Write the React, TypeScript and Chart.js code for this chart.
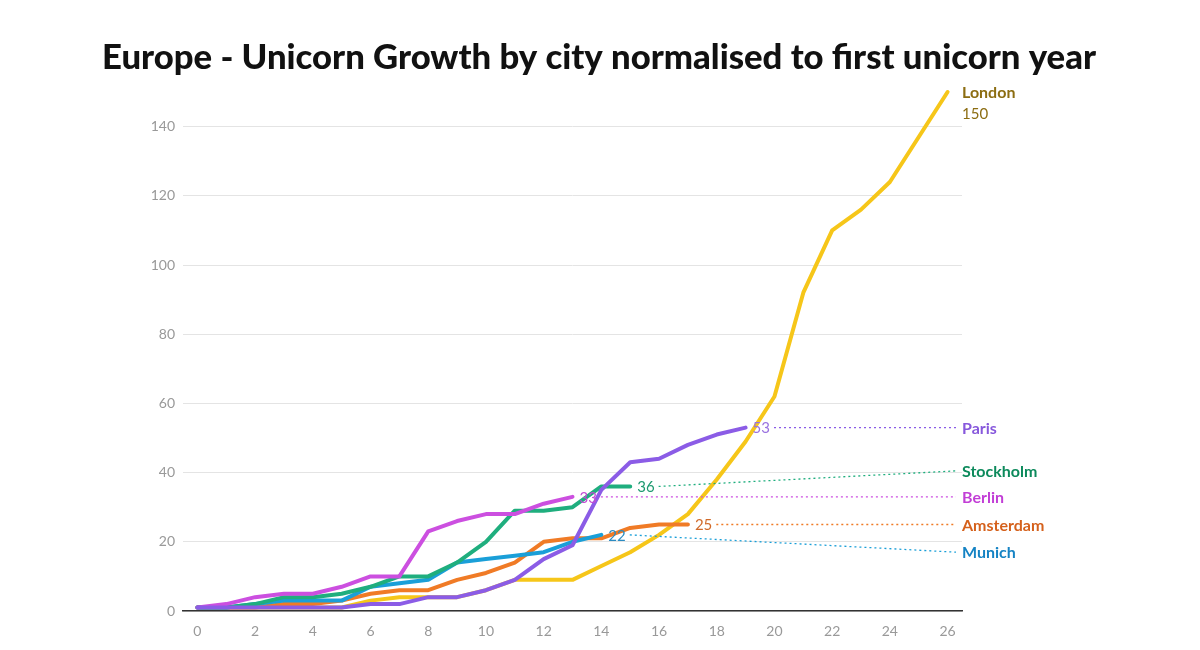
import React, { useEffect, useRef } from "react";
import { Chart, registerables } from "chart.js";

Chart.register(...registerables);

const years = [0, 1, 2, 3, 4, 5, 6, 7, 8, 9, 10, 11, 12, 13, 14, 15, 16, 17, 18, 19, 20, 21, 22, 23, 24, 25, 26];
const xTicks = [0, 2, 4, 6, 8, 10, 12, 14, 16, 18, 20, 22, 24, 26];
const yTicks = [0, 20, 40, 60, 80, 100, 120, 140];

const london = [1, 1, 1, 1, 1, 1, 3, 4, 4, 4, 6, 9, 9, 9, 13, 17, 22, 28, 38, 49, 62, 92, 110, 116, 124, 137, 150];
const paris = [1, 1, 1, 1, 1, 1, 2, 2, 4, 4, 6, 9, 15, 19, 35, 43, 44, 48, 51, 53];
const stockholm = [1, 1, 2, 4, 4, 5, 7, 10, 10, 14, 20, 29, 29, 30, 36, 36];
const berlin = [1, 2, 4, 5, 5, 7, 10, 10, 23, 26, 28, 28, 31, 33];
const amsterdam = [1, 1, 1, 2, 2, 3, 5, 6, 6, 9, 11, 14, 20, 21, 21, 24, 25, 25];
const munich = [1, 1, 2, 3, 3, 3, 7, 8, 9, 14, 15, 16, 17, 20, 22];

const TITLE = "Europe - Unicorn Growth by city normalised to first unicorn year";

type Series = {
  name: string;
  values: number[];
  line: string;
  valueColor: string;
  nameColor: string;
  anchor: number;
};

const series: Series[] = [
  { name: "Paris", values: paris, line: "#8b5ce6", valueColor: "#9a72e0", nameColor: "#8758dc", anchor: 53 },
  { name: "Berlin", values: berlin, line: "#cc4fe0", valueColor: "#c34bd4", nameColor: "#c23ed6", anchor: 33 },
  { name: "Stockholm", values: stockholm, line: "#1fae7e", valueColor: "#1e9a70", nameColor: "#0d8a5c", anchor: 40.5 },
  { name: "Munich", values: munich, line: "#1a9fd8", valueColor: "#2b8bc2", nameColor: "#1583c4", anchor: 17 },
  { name: "Amsterdam", values: amsterdam, line: "#f07b26", valueColor: "#d06a2a", nameColor: "#d5611c", anchor: 25 },
  { name: "London", values: london, line: "#f6c619", valueColor: "#8c6d12", nameColor: "#8c6d12", anchor: 150 },
];

const FONT = "Lato, 'Open Sans', sans-serif";

const labelPlugin = {
  id: "endLabels",
  afterDatasetsDraw(chart: any) {
    const { ctx, chartArea } = chart;
    const xs = chart.scales.x;
    const ys = chart.scales.y;
    ctx.save();
    ctx.textBaseline = "middle";
    ctx.textAlign = "left";
    const right = chartArea.right;
    series.forEach((s) => {
      const i = s.values.length - 1;
      const v = s.values[i];
      const px = xs.getPixelForValue(years[i]);
      const py = ys.getPixelForValue(v);
      if (s.name === "London") {
        ctx.font = `bold 16px ${FONT}`;
        ctx.fillStyle = s.nameColor;
        ctx.fillText(s.name, right, py + 1);
        ctx.font = `15px ${FONT}`;
        ctx.fillText(String(v), right, py + 22);
        return;
      }
      ctx.font = `15px ${FONT}`;
      ctx.fillStyle = s.valueColor;
      const tx = px + 7;
      ctx.fillText(String(v), tx, py + 1);
      const w = ctx.measureText(String(v)).width;
      const ay = ys.getPixelForValue(s.anchor);
      ctx.beginPath();
      ctx.setLineDash([2, 3]);
      ctx.lineWidth = 1.3;
      ctx.strokeStyle = s.line;
      ctx.moveTo(tx + w + 4, py);
      ctx.lineTo(right - 6, ay);
      ctx.stroke();
      ctx.setLineDash([]);
      ctx.font = `bold 16px ${FONT}`;
      ctx.fillStyle = s.nameColor;
      ctx.fillText(s.name, right, ay + 1);
    });
    ctx.restore();
  },
};

const titlePlugin = {
  id: "bigTitle",
  afterDraw(chart: any) {
    const { ctx } = chart;
    ctx.save();
    ctx.font = `900 35px ${FONT}`;
    ctx.fillStyle = "#111";
    ctx.textAlign = "center";
    ctx.textBaseline = "middle";
    ctx.fillText(TITLE, 599, 58, 994);
    ctx.restore();
  },
};

export default function App() {
  const ref = useRef<HTMLCanvasElement | null>(null);
  useEffect(() => {
    if (!ref.current) return;
    const chart = new Chart(ref.current, {
      type: "line",
      data: {
        datasets: series.map((s, idx) => ({
          label: s.name,
          data: s.values.map((v, i) => ({ x: years[i], y: v })),
          borderColor: s.line,
          backgroundColor: s.line,
          borderWidth: 4,
          pointRadius: 0,
          tension: 0,
          borderJoinStyle: "round" as const,
          borderCapStyle: "round" as const,
          clip: false as any,
          order: idx,
        })),
      },
      options: {
        responsive: false,
        animation: false,
        layout: { padding: { left: 0, right: 238, top: 92, bottom: 0 } },
        plugins: {
          legend: { display: false },
          tooltip: { enabled: false },
          title: { display: false },
        },
        scales: {
          x: {
            type: "linear",
            min: -0.5,
            max: 26.5,
            afterBuildTicks: (scale: any) => {
              scale.ticks = xTicks.map((v) => ({ value: v }));
            },
            afterFit: (scale: any) => {
              scale.height = 39;
            },
            grid: { display: false, drawTicks: false },
            border: { display: true, color: "#333", width: 1.5 },
            ticks: {
              color: "#999",
              font: { family: FONT, size: 14 },
              padding: 12,
              maxRotation: 0,
            },
          },
          y: {
            type: "linear",
            min: 0,
            max: 150,
            afterBuildTicks: (scale: any) => {
              scale.ticks = yTicks.map((v) => ({ value: v }));
            },
            afterFit: (scale: any) => {
              scale.width = 183;
            },
            grid: { color: "#e4e4e4", lineWidth: 1, drawTicks: false },
            border: { display: false },
            ticks: {
              color: "#999",
              font: { family: FONT, size: 14 },
              padding: 8,
            },
          },
        },
      },
      plugins: [labelPlugin, titlePlugin],
    });
    return () => chart.destroy();
  }, []);
  return (
    <div style={{ position: "fixed", left: 0, top: 0, width: 1200, height: 650, background: "#fff" }}>
      <canvas ref={ref} width={1200} height={650} style={{ width: 1200, height: 650 }} />
    </div>
  );
}
